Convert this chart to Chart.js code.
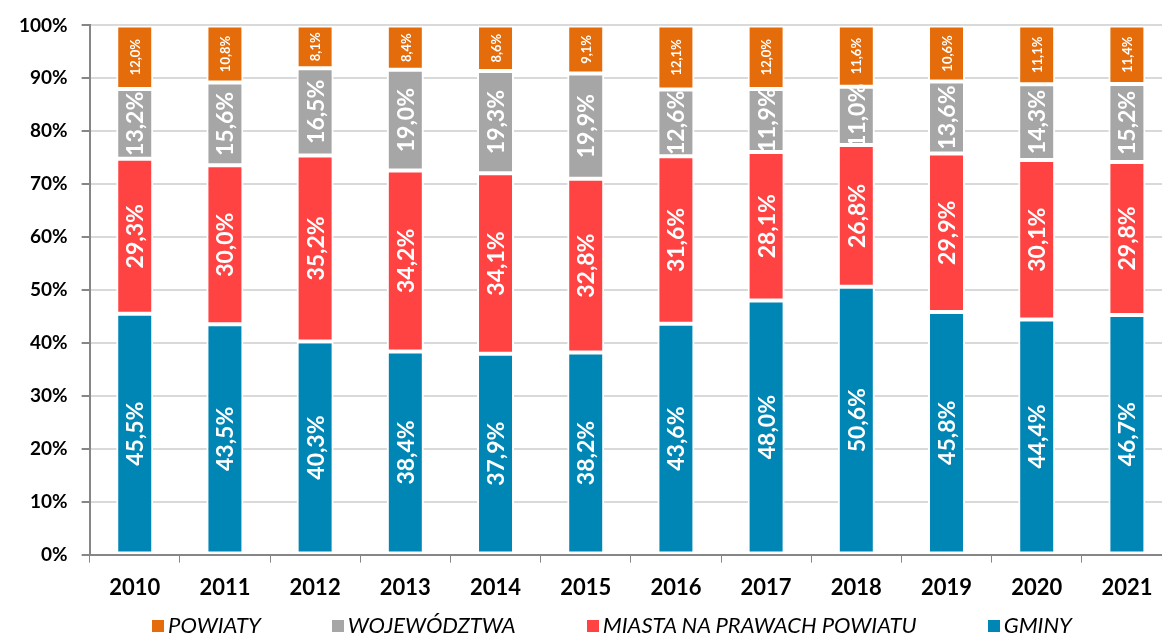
<!DOCTYPE html>
<html>
<head>
<meta charset="utf-8">
<script src="https://cdn.jsdelivr.net/npm/chart.js@4"></script>
<style>
    body { margin: 0; overflow: hidden; background: #fff; }
    #wrap { position: relative; width: 1224px; height: 635px; }
    #legend { position: absolute; left: 0; top: 610px; width: 1224px; display: flex; justify-content: center; gap: 71px;
        font: italic 22px Lato, sans-serif; color: #000; line-height: 30px; }
    #legend span.box { display: inline-block; width: 12px; height: 12px; margin-right: 4px; vertical-align: 1px; }
</style>
</head>
<body>
<div id="wrap">
    <canvas id="sharesChart" width="1224" height="635"></canvas>
    <div id="legend"></div>
</div>
<script>
const years = ['2010', '2011', '2012', '2013', '2014', '2015', '2016', '2017', '2018', '2019', '2020', '2021'];
const gminy = [45.5, 43.5, 40.3, 38.4, 37.9, 38.2, 43.6, 48.0, 50.6, 45.8, 44.4, 46.7];
const miasta = [29.3, 30.0, 35.2, 34.2, 34.1, 32.8, 31.6, 28.1, 26.8, 29.9, 30.1, 29.8];
const wojewodztwa = [13.2, 15.6, 16.5, 19.0, 19.3, 19.9, 12.6, 11.9, 11.0, 13.6, 14.3, 15.2];
const powiaty = [12.0, 10.8, 8.1, 8.4, 8.6, 9.1, 12.1, 12.0, 11.6, 10.6, 11.1, 11.4];
const yTicks = [0, 10, 20, 30, 40, 50, 60, 70, 80, 90, 100];

const seriesNames = ['GMINY', 'MIASTA NA PRAWACH POWIATU', 'WOJEWÓDZTWA', 'POWIATY'];
const seriesColors = ['#0086B5', '#FF4343', '#A6A6A6', '#E46C0A'];
const seriesData = [gminy, miasta, wojewodztwa, powiaty];

// wykres 100% skumulowany - wysokość słupka to udział w sumie roku
const totals = years.map((y, j) => seriesData.reduce((s, d) => s + d[j], 0));

// etykiety wartości wewnątrz słupków (obrócone)
const valueLabels = {
    id: 'valueLabels',
    afterDatasetsDraw(chart) {
        const ctx = chart.ctx;
        chart.data.datasets.forEach((ds, i) => {
            const meta = chart.getDatasetMeta(i);
            const size = i === 3 ? 13 : 23;
            meta.data.forEach((bar, j) => {
                const txt = seriesData[i][j].toFixed(1).replace('.', ',') + '%';
                ctx.save();
                ctx.translate(bar.x, (bar.y + bar.base) / 2);
                ctx.rotate(-Math.PI / 2);
                ctx.font = 'bold ' + size + 'px Lato, sans-serif';
                ctx.fillStyle = '#fff';
                ctx.textAlign = 'center';
                ctx.textBaseline = 'middle';
                ctx.fillText(txt, 0, 1);
                ctx.restore();
            });
        });
    }
};

const ctx = document.getElementById('sharesChart').getContext('2d');
new Chart(ctx, {
    type: 'bar',
    data: {
        labels: years,
        datasets: seriesData.map((d, i) => ({
            label: seriesNames[i],
            data: d.map((v, j) => v / totals[j] * 100),
            backgroundColor: seriesColors[i],
            borderColor: '#fff',
            borderWidth: 2,
            borderSkipped: false,
            barPercentage: 0.41,
            categoryPercentage: 1
        }))
    },
    options: {
        responsive: false,
        animation: false,
        layout: { padding: { left: 5, right: 52, top: 3, bottom: 22 } },
        plugins: {
            legend: { display: false },
            tooltip: { enabled: false }
        },
        scales: {
            x: {
                stacked: true,
                grid: { offset: true, drawOnChartArea: false, color: '#868686', tickLength: 8 },
                border: { color: '#868686', width: 2 },
                ticks: { color: '#000', padding: 12, font: { family: 'Lato', size: 22, weight: 'bold' } }
            },
            y: {
                stacked: true,
                min: 0,
                max: 100,
                afterBuildTicks: axis => { axis.ticks = yTicks.map(v => ({ value: v })); },
                grid: { color: '#D9D9D9', lineWidth: 2, tickColor: '#868686', tickLength: 8 },
                border: { color: '#868686', width: 2 },
                ticks: {
                    color: '#000',
                    padding: 14,
                    font: { family: 'Lato', size: 19, weight: 'bold' },
                    callback: v => v + '%'
                }
            }
        }
    },
    plugins: [valueLabels]
});

// legenda w kolejności odwrotnej
const legend = document.getElementById('legend');
for (let i = seriesNames.length - 1; i >= 0; i--) {
    const item = document.createElement('div');
    item.innerHTML = '<span class="box" style="background:' + seriesColors[i] + '"></span>' + seriesNames[i];
    legend.appendChild(item);
}
</script>
</body>
</html>
